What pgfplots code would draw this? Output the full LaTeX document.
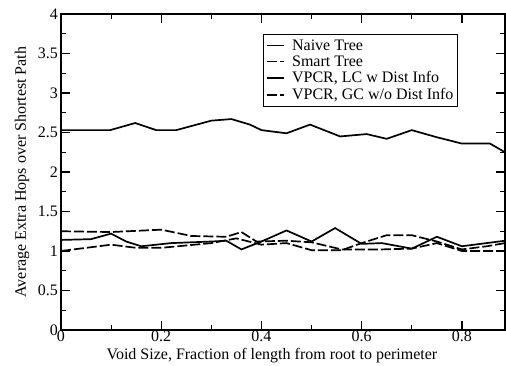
\documentclass[border=0pt]{standalone}
\usepackage{fontspec}
\setmainfont{Liberation Serif}
\usepackage{pgfplots}
\pgfplotsset{compat=1.18}
\begin{document}
\begin{tikzpicture}[font=\fontsize{16}{18}\selectfont]
\begin{axis}[
  at={(0pt,0pt)}, anchor=south west,
  scale only axis, width=444pt, height=316pt,
  xmin=0, xmax=0.886, ymin=0, ymax=4,
  axis line style={line width=1.2pt},
  xtick={0,0.2,0.4,0.6,0.8}, minor xtick={0.1,0.3,0.5,0.7},
  ytick={0,0.5,1,1.5,2,2.5,3,3.5,4}, minor ytick={0.25,0.75,1.25,1.75,2.25,2.75,3.25,3.75},
  yticklabels={0,0.5,1,1.5,2,2.5,3,3.5,4},
  xticklabels={0,0.2,0.4,0.6,0.8},
  tick align=inside, major tick length=9pt, minor tick length=5pt,
  tick style={line width=1.2pt, black},
  /pgf/number format/assume math mode=true,
  xticklabel style={inner sep=1pt},
  yticklabel style={inner sep=3pt},
  xlabel={Void Size, Fraction of length from root to perimeter},
  ylabel={Average Extra Hops over Shortest Path},
  xlabel style={at={(axis description cs:0.475,0)}, anchor=center, yshift=-26pt},
  ylabel style={at={(axis description cs:0,0.5)}, anchor=center, yshift=39pt},
  legend style={at={(axis description cs:0.455,0.937)}, anchor=north west,
    draw=black, line width=1.2pt, fill=white, inner xsep=3pt, inner ysep=4pt,
    nodes={inner sep=1pt}, row sep=2pt,
    /tikz/every odd column/.append style={column sep=6pt}},
  legend cell align=left,
  legend image code/.code={\draw[#1, line width=1.5pt] (0pt,0pt) -- (17pt,0pt);},
]
\addplot[black, line width=1.7pt] coordinates {
(0,2.53) (0.098,2.53) (0.148,2.62) (0.19,2.53) (0.23,2.53) (0.30,2.65) (0.34,2.67)
(0.377,2.60) (0.40,2.53) (0.45,2.49) (0.497,2.60) (0.557,2.45) (0.61,2.48) (0.65,2.42)
(0.70,2.53) (0.75,2.44) (0.80,2.36) (0.856,2.36) (0.886,2.25)};
\addlegendentry{Naive Tree}
\addplot[black, line width=1.7pt, dash pattern=on 10pt off 3pt] coordinates {
(0,1.25) (0.1,1.24) (0.2,1.27) (0.26,1.19) (0.33,1.18) (0.36,1.24) (0.39,1.12)
(0.45,1.13) (0.5,1.11) (0.56,1.02) (0.64,1.02) (0.7,1.03) (0.75,1.10) (0.8,1.0) (0.886,1.0)};
\addlegendentry{Smart Tree}
\addplot[black, line width=1.7pt] coordinates {
(0,1.14) (0.06,1.15) (0.1,1.22) (0.13,1.12) (0.16,1.06) (0.22,1.10) (0.3,1.12)
(0.33,1.13) (0.36,1.02) (0.4,1.12) (0.45,1.26) (0.5,1.12) (0.547,1.29) (0.6,1.09)
(0.64,1.10) (0.7,1.03) (0.75,1.18) (0.8,1.06) (0.886,1.13)};
\addlegendentry{VPCR, LC w Dist Info}
\addplot[black, line width=1.7pt, dash pattern=on 10pt off 3pt] coordinates {
(0,1.00) (0.1,1.08) (0.15,1.04) (0.2,1.04) (0.3,1.10) (0.35,1.16) (0.4,1.08)
(0.45,1.10) (0.5,1.01) (0.56,1.01) (0.6,1.10) (0.65,1.20) (0.7,1.20) (0.75,1.12)
(0.8,1.02) (0.85,1.06) (0.886,1.10)};
\addlegendentry{VPCR, GC w/o Dist Info}
\end{axis}
\pgfresetboundingbox
\path[use as bounding box] (-61pt,-36pt) rectangle (445pt,330pt);
\end{tikzpicture}
\end{document}
